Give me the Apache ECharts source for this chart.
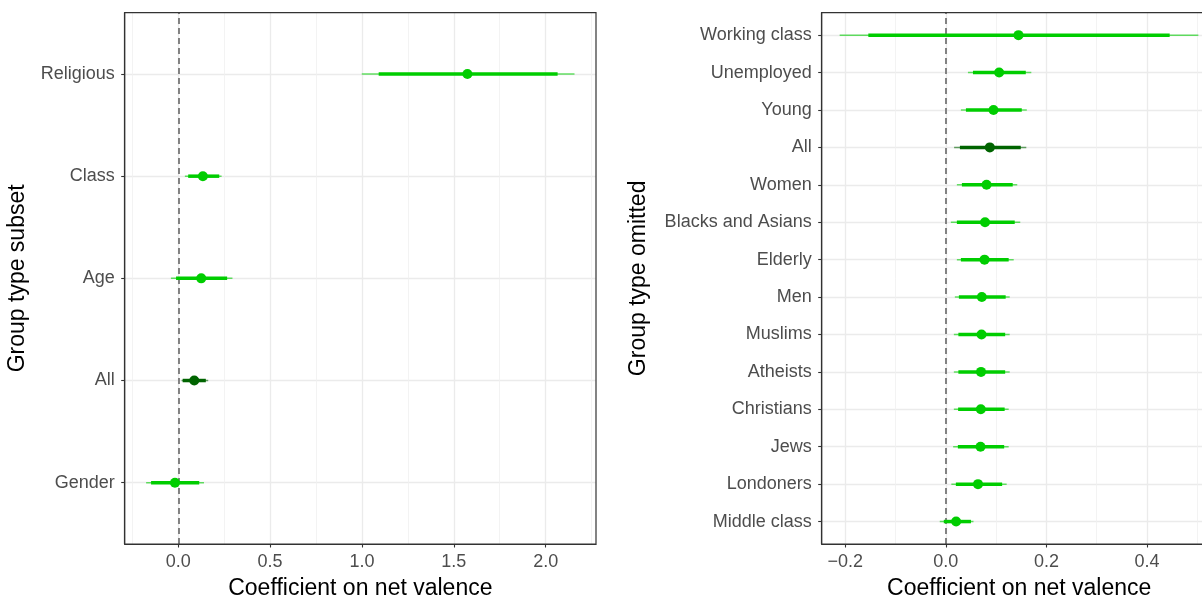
<!DOCTYPE html>
<html><head><meta charset="utf-8">
<script src="https://cdn.jsdelivr.net/npm/echarts@6/dist/echarts.min.js"></script>
<style>html,body{margin:0;padding:0;background:#fff}#c{width:1202px;height:599px}</style>
</head><body><div id="c"></div>
<script>
// ---- Left panel: Group type subset (bottom to top) ----
const leftCats = ['Gender', 'All', 'Age', 'Class', 'Religious'];
const leftEst = [-0.018, 0.087, 0.125, 0.134, 1.574];
const leftInnerLo = [-0.148, 0.024, -0.012, 0.054, 1.091];
const leftInnerHi = [0.114, 0.150, 0.266, 0.223, 2.065];
const leftOuterLo = [-0.175, 0.018, -0.040, 0.036, 0.999];
const leftOuterHi = [0.140, 0.163, 0.295, 0.236, 2.157];
const leftTicks = [0, 0.5, 1.0, 1.5, 2.0];
const leftMinor = [-0.25, 0.25, 0.75, 1.25, 1.75, 2.25];

// ---- Right panel: Group type omitted (bottom to top) ----
const rightCats = ['Middle class', 'Londoners', 'Jews', 'Christians', 'Atheists', 'Muslims', 'Men',
  'Elderly', 'Blacks and Asians', 'Women', 'All', 'Young', 'Unemployed', 'Working class'];
const rightEst = [0.0205, 0.064, 0.069, 0.0696, 0.070, 0.071, 0.0716, 0.077, 0.078, 0.081, 0.0875, 0.0948, 0.106, 0.1445];
const rightInnerLo = [-0.004, 0.020, 0.024, 0.0245, 0.025, 0.025, 0.026, 0.030, 0.022, 0.032, 0.028, 0.040, 0.054, -0.154];
const rightInnerHi = [0.050, 0.112, 0.116, 0.117, 0.118, 0.118, 0.119, 0.125, 0.137, 0.133, 0.149, 0.151, 0.159, 0.445];
const rightOuterLo = [-0.012, 0.011, 0.0146, 0.016, 0.016, 0.016, 0.018, 0.022, 0.010, 0.022, 0.0165, 0.030, 0.044, -0.211];
const rightOuterHi = [0.055, 0.121, 0.125, 0.125, 0.127, 0.127, 0.127, 0.135, 0.148, 0.142, 0.160, 0.161, 0.170, 0.502];
const rightTicks = [-0.2, 0, 0.2, 0.4];
const rightMinor = [-0.1, 0.1, 0.3, 0.5];

const GREEN = '#00CD00', DARK = '#006400';
const FONT = '"Liberation Sans", Arial, sans-serif';
const colorFor = (cat) => cat === 'All' ? DARK : GREEN;

function rows(cats, est, ilo, ihi, olo, ohi) {
  return cats.map((c, i) => [est[i], i + 1, ilo[i], ihi[i], olo[i], ohi[i], c]);
}

function barRender(params, api) {
  const y = api.value(1);
  const ol = api.coord([api.value(4), y]), oh = api.coord([api.value(5), y]);
  const il = api.coord([api.value(2), y]), ih = api.coord([api.value(3), y]);
  const col = api.visual('color');
  return {
    type: 'group',
    children: [
      { type: 'line', shape: { x1: ol[0], y1: ol[1], x2: oh[0], y2: oh[1] },
        style: { stroke: col, lineWidth: 1.5, opacity: 0.6 } },
      { type: 'line', shape: { x1: il[0], y1: il[1], x2: ih[0], y2: ih[1] },
        style: { stroke: col, lineWidth: 3.5 } }
    ]
  };
}

function xAxisMajor(gi, min, max, ticks, fmt) {
  return {
    type: 'value', gridIndex: gi, min: min, max: max,
    name: 'Coefficient on net valence', nameLocation: 'middle', nameGap: 33,
    nameTextStyle: { fontFamily: FONT, fontSize: 23, color: '#000' },
    axisLine: { show: true, onZero: false, lineStyle: { color: '#333', width: 1.2 } },
    axisTick: { show: true, length: 3.5, customValues: ticks, lineStyle: { color: '#333', width: 1.1 } },
    axisLabel: { customValues: ticks, formatter: fmt, fontFamily: FONT, fontSize: 18, color: '#4D4D4D', margin: 9 },
    splitLine: { show: true, lineStyle: { color: '#EBEBEB', width: 1.3 } }
  };
}
function xAxisMinor(gi, min, max, vals) {
  return {
    type: 'value', gridIndex: gi, min: min, max: max, position: 'bottom',
    axisLine: { show: false }, axisLabel: { show: false },
    axisTick: { show: false, customValues: vals },
    splitLine: { show: true, lineStyle: { color: '#F0F0F0', width: 0.8 } }
  };
}
function yAxisCat(gi, cats, title, gap) {
  const vals = cats.map((c, i) => i + 1);
  return {
    type: 'value', gridIndex: gi, min: 0.4, max: cats.length + 0.6,
    name: title, nameLocation: 'middle', nameGap: gap, nameRotate: 90,
    nameTextStyle: { fontFamily: FONT, fontSize: 23, color: '#000' },
    axisLine: { show: true, onZero: false, lineStyle: { color: '#333', width: 1.2 } },
    axisTick: { show: true, length: 3.5, customValues: vals, lineStyle: { color: '#333', width: 1.1 } },
    axisLabel: { customValues: vals, formatter: (v) => cats[Math.round(v) - 1] || '',
      fontFamily: FONT, fontSize: 18, color: '#4D4D4D', margin: 10 },
    splitLine: { show: true, lineStyle: { color: '#EBEBEB', width: 1.3 } }
  };
}

const fmt1 = (v) => (v < 0 ? '\u2212' : '') + Math.abs(v).toFixed(1);

const leftData = rows(leftCats, leftEst, leftInnerLo, leftInnerHi, leftOuterLo, leftOuterHi);
const rightData = rows(rightCats, rightEst, rightInnerLo, rightInnerHi, rightOuterLo, rightOuterHi);

function seriesFor(xi, yi, data) {
  return [
    { type: 'custom', xAxisIndex: xi, yAxisIndex: yi, renderItem: barRender, z: 3,
      encode: { x: [0, 2, 3, 4, 5], y: 1 },
      data: data.map(d => ({ value: d, itemStyle: { color: colorFor(d[6]) } })),
      silent: true },
    { type: 'scatter', xAxisIndex: xi, yAxisIndex: yi, symbolSize: 10, z: 4, silent: true,
      data: data.map(d => ({ value: [d[0], d[1]], itemStyle: { color: colorFor(d[6]), opacity: 1 } })),
      markLine: { silent: true, symbol: 'none', label: { show: false }, z: 2,
        lineStyle: { color: '#777777', width: 1.8, type: [6, 4] },
        data: [{ xAxis: 0 }] } }
  ];
}

const chart = echarts.init(document.getElementById('c'), null, { renderer: 'canvas' });
chart.setOption({
  animation: false,
  backgroundColor: '#fff',
  grid: [
    { left: 124.7, width: 471.3, top: 12.7, height: 531.3, containLabel: false, outerBoundsMode: 'none',
      show: true, borderColor: '#333', borderWidth: 1.2, backgroundColor: 'transparent', z: 10 },
    { left: 821.7, width: 394.9, top: 12.7, height: 531.3, containLabel: false, outerBoundsMode: 'none',
      show: true, borderColor: '#333', borderWidth: 1.2, backgroundColor: 'transparent', z: 10 }
  ],
  xAxis: [
    xAxisMajor(0, -0.2916, 2.274, leftTicks, fmt1),
    xAxisMinor(0, -0.2916, 2.274, leftMinor),
    xAxisMajor(1, -0.2467, 0.5383, rightTicks, fmt1),
    xAxisMinor(1, -0.2467, 0.5383, rightMinor)
  ],
  yAxis: [
    yAxisCat(0, leftCats, 'Group type subset', 96),
    yAxisCat(1, rightCats, 'Group type omitted', 172)
  ],
  series: [].concat(seriesFor(0, 0, leftData), seriesFor(2, 1, rightData))
});
</script>
</body></html>
